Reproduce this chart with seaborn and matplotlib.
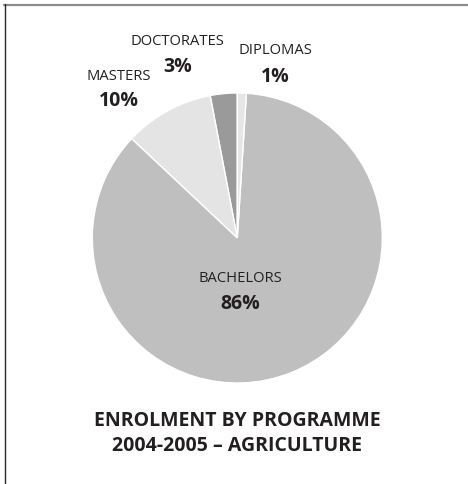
import seaborn as sns
import matplotlib.pyplot as plt
from matplotlib.lines import Line2D

# data
programmes = ["DOCTORATES", "MASTERS", "BACHELORS", "DIPLOMAS"]
shares = [3, 10, 86, 1]
slice_colors = ["#9a9a9a", "#e4e4e4", "#bfbfbf", "#e6e6e6"]
title_lines = ["ENROLMENT BY PROGRAMME", "2004-2005 \u2013 AGRICULTURE"]

sns.set_theme(style="white")
plt.rcParams['font.family'] = ['Open Sans', 'DejaVu Sans']
txt = "#231f20"

fig = plt.figure(figsize=(4.68, 4.85), dpi=100)
ax = fig.add_axes([92.3 / 468, 101 / 485, 290 / 468, 290 / 485])

ax.pie(shares, colors=slice_colors, startangle=90, counterclock=True,
       wedgeprops=dict(edgecolor="white", linewidth=1))
ax.set_xlim(-1, 1)
ax.set_ylim(-1, 1)
ax.axis('off')

# slice labels (name + bold percentage)
label_pos = {
    "DOCTORATES": (-0.41, 1.36, 1.185),
    "MASTERS": (-0.82, 1.12, 0.955),
    "BACHELORS": (0.02, -0.27, -0.445),
    "DIPLOMAS": (0.26, 1.30, 1.115),
}
for name, val in zip(programmes, shares):
    x, y1, y2 = label_pos[name]
    ax.text(x, y1, name, ha='center', va='center', fontsize=10.6,
            color=txt, clip_on=False)
    ax.text(x, y2, f"{val}%", ha='center', va='center', fontsize=14,
            fontweight='bold', color=txt, clip_on=False)

fig.text(237 / 468, 1 - 421 / 485, title_lines[0], ha='center', va='center',
         fontsize=14, fontweight='bold', color=txt)
fig.text(237 / 468, 1 - 446 / 485, title_lines[1], ha='center', va='center',
         fontsize=14, fontweight='bold', color=txt)

# frame lines (top and left)
fig.add_artist(Line2D([4 / 468, 1], [1 - 5.5 / 485, 1 - 5.5 / 485],
                      color="#8c8c8c", linewidth=1.6, transform=fig.transFigure))
fig.add_artist(Line2D([4.5 / 468, 4.5 / 468], [0, 1 - 5 / 485],
                      color="#2a2a2a", linewidth=1.0, transform=fig.transFigure))

fig.savefig("out.png", dpi=100)
